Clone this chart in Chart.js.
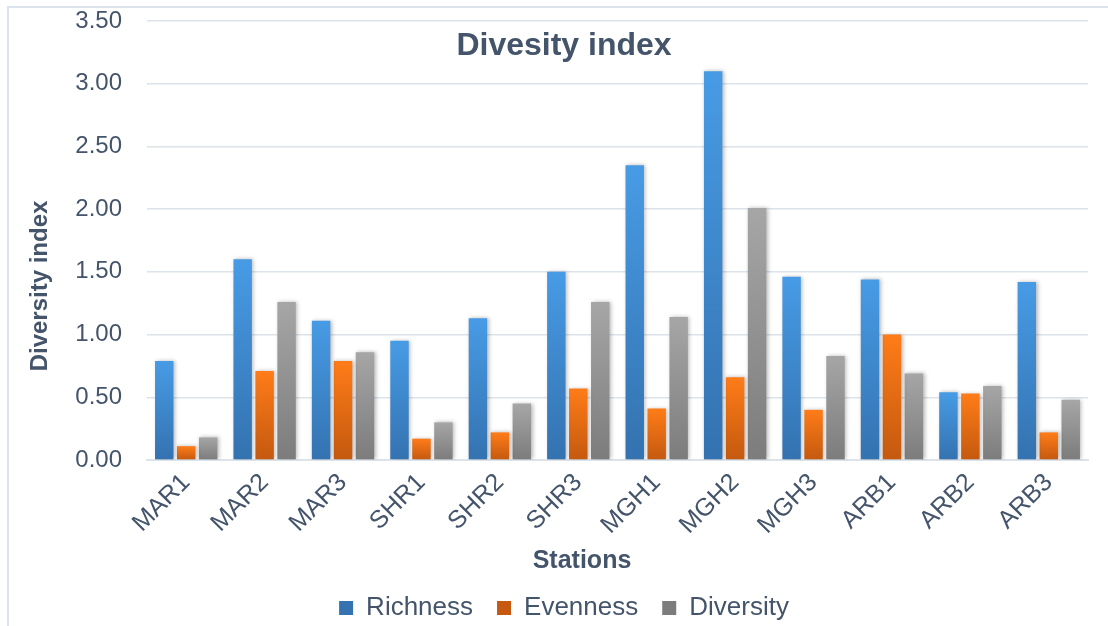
<!DOCTYPE html>
<html>
<head>
<meta charset="utf-8">
<script src="https://cdn.jsdelivr.net/npm/chart.js@4.4.1/dist/chart.umd.min.js"></script>
<style>
  html, body { margin: 0; padding: 0; background: #ffffff; }
  #wrap { position: relative; width: 1108px; height: 626px; overflow: hidden; }
  #frame { position: absolute; left: 7px; top: 6px; width: 1200px; height: 700px;
           border-left: 2px solid #dde3ec; border-top: 2px solid #dde3ec; }
  canvas { position: absolute; left: 0; top: 0; }
</style>
</head>
<body>
<div id="wrap">
  <div id="frame"></div>
  <canvas id="c" width="1108" height="626"></canvas>
</div>
<script>
const categories = ['MAR1','MAR2','MAR3','SHR1','SHR2','SHR3','MGH1','MGH2','MGH3','ARB1','ARB2','ARB3'];
const richness  = [0.79, 1.60, 1.11, 0.95, 1.13, 1.50, 2.35, 3.10, 1.46, 1.44, 0.54, 1.42];
const evenness  = [0.11, 0.71, 0.79, 0.17, 0.22, 0.57, 0.41, 0.66, 0.40, 1.00, 0.53, 0.22];
const diversity = [0.18, 1.26, 0.86, 0.30, 0.45, 1.26, 1.14, 2.01, 0.83, 0.69, 0.59, 0.48];
const seriesNames = ['Richness', 'Evenness', 'Diversity'];
const yTicks = [0, 0.5, 1.0, 1.5, 2.0, 2.5, 3.0, 3.5];
const chartTitle = 'Divesity index';
const xTitle = 'Stations';
const yTitle = 'Diversity index';

const TEXT = '#44546A';
const FONT = '"Liberation Sans", Arial, sans-serif';

function grad(top, bottom) {
  return (ctx) => {
    const chart = ctx.chart;
    if (!chart.chartArea || ctx.type !== 'data' || !ctx.parsed) return top;
    const ys = chart.scales.y;
    const y0 = ys.getPixelForValue(0);
    const y1 = ys.getPixelForValue(ctx.parsed.y);
    if (!isFinite(y0) || !isFinite(y1) || y0 === y1) return top;
    const g = chart.ctx.createLinearGradient(0, y1, 0, y0);
    g.addColorStop(0, top);
    g.addColorStop(1, bottom);
    return g;
  };
}

const shadowPlugin = {
  id: 'barShadow',
  beforeDatasetsDraw(chart) {
    const c = chart.ctx;
    c.save();
    c.shadowColor = 'rgba(0,0,0,0.28)';
    c.shadowBlur = 4;
    c.shadowOffsetX = 1.5;
    c.shadowOffsetY = 0;
  },
  afterDatasetsDraw(chart) { chart.ctx.restore(); }
};

const textPlugin = {
  id: 'titles',
  afterDraw(chart) {
    const c = chart.ctx;
    c.save();
    c.fillStyle = TEXT;
    c.textAlign = 'center';
    c.textBaseline = 'middle';
    c.font = 'bold 32px ' + FONT;
    c.fillText(chartTitle, 564, 46);
    c.font = 'bold 25px ' + FONT;
    c.fillText(xTitle, 582, 561);
    c.translate(40, 286);
    c.rotate(-Math.PI / 2);
    c.font = 'bold 24px ' + FONT;
    c.fillText(yTitle, 0, 0);
    c.restore();
  }
};

new Chart(document.getElementById('c'), {
  type: 'bar',
  data: {
    labels: categories,
    datasets: [
      { label: seriesNames[0], data: richness,  backgroundColor: grad('#479BE5', '#3472B0') },
      { label: seriesNames[1], data: evenness,  backgroundColor: grad('#FF7C18', '#C4590F') },
      { label: seriesNames[2], data: diversity, backgroundColor: grad('#A6A6A6', '#7C7C7C') }
    ]
  },
  options: {
    responsive: false,
    animation: false,
    devicePixelRatio: 1,
    layout: { padding: { left: 40, right: 20, top: 21, bottom: -5 } },
    datasets: { bar: { categoryPercentage: 0.84, barPercentage: 0.84, borderWidth: 0 } },
    plugins: {
      title: { display: false },
      tooltip: { enabled: false },
      legend: {
        position: 'bottom',
        labels: {
          color: TEXT,
          font: { family: FONT, size: 26 },
          boxWidth: 14,
          boxHeight: 14,
          padding: 24
        }
      }
    },
    scales: {
      x: {
        grid: { display: false, drawTicks: false },
        border: { display: true, color: '#dde3ea', width: 2 },
        ticks: {
          color: TEXT,
          font: { family: FONT, size: 25 },
          minRotation: 45,
          maxRotation: 45,
          padding: 8
        },
        afterFit(s) { s.height = 111; }
      },
      y: {
        min: 0,
        max: 3.5,
        afterBuildTicks(s) { s.ticks = yTicks.map(v => ({ value: v })); },
        grid: { color: '#dde3ea', lineWidth: 1.5, drawTicks: true, tickLength: 25, tickColor: 'rgba(0,0,0,0)' },
        border: { display: false },
        ticks: {
          color: TEXT,
          font: { family: FONT, size: 24 },
          padding: 0,
          callback: (v) => Number(v).toFixed(2)
        },
        afterFit(s) { s.width = 107; }
      }
    }
  },
  plugins: [shadowPlugin, textPlugin]
});
</script>
</body>
</html>
